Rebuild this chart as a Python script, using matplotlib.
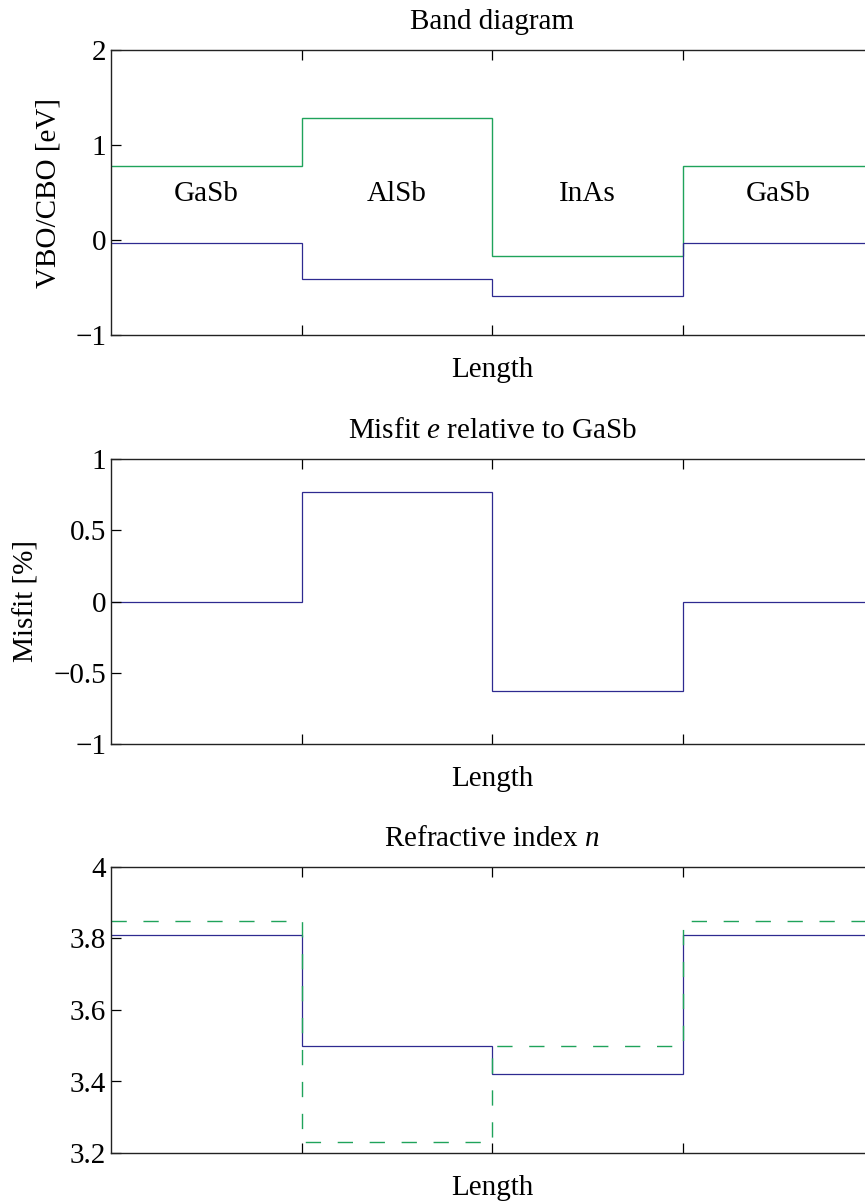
import numpy as np
import matplotlib
matplotlib.use("Agg")
import matplotlib.pyplot as plt

plt.rcParams['font.family'] = ['Liberation Serif', 'DejaVu Serif']
plt.rcParams['mathtext.fontset'] = 'custom'
plt.rcParams['mathtext.rm'] = 'Liberation Serif'
plt.rcParams['mathtext.it'] = 'Liberation Serif:italic'
plt.rcParams['font.size'] = 21

# layer stack, one unit of length per layer
materials = ["GaSb", "AlSb", "InAs", "GaSb"]
edges = [0, 1, 2, 3, 4]

vbo = [-0.03, -0.41, -0.59, -0.03]
cbo = [0.78, 1.28, -0.17, 0.78]
misfit = [0.0, 0.77, -0.63, 0.0]
n_solid = [3.81, 3.50, 3.42, 3.81]
n_dashed = [3.85, 3.23, 3.50, 3.85]

BLUE = "#2e2a90"
GREEN = "#1fa35b"

fig = plt.figure(figsize=(8.65, 12.02), dpi=100)

left = 111 / 865
width = 4 * 190.5 / 865
H = 1202


def make_axes(top_px, bottom_px):
    ax = fig.add_axes([left, 1 - bottom_px / H, width, (bottom_px - top_px) / H])
    ax.set_xlim(0, 4)
    ax.set_xticks([1, 2, 3])
    ax.set_xticklabels([])
    ax.tick_params(direction="in", top=True, right=False, length=7, width=0.9)
    for s in ax.spines.values():
        s.set_linewidth(1.0)
        s.set_color("#222222")
    ax.set_xlabel("Length", labelpad=12)
    return ax


# band diagram
ax1 = make_axes(50, 335)
ax1.stairs(cbo, edges, baseline=None, color=GREEN, lw=1.0)
ax1.stairs(vbo, edges, baseline=None, color=BLUE, lw=0.9)
ax1.set_ylim(-1, 2)
ax1.set_yticks([-1, 0, 1, 2])
for i, m in enumerate(materials):
    ax1.text(i + 0.5, 0.48, m, ha="center", va="center")
ax1.set_ylabel("VBO/CBO [eV]", labelpad=10)
ax1.set_title("Band diagram", pad=15, fontsize=21)

# misfit
ax2 = make_axes(459, 744)
ax2.stairs(misfit, edges, baseline=None, color=BLUE, lw=0.9)
ax2.set_ylim(-1, 1)
ax2.set_yticks([-1, -0.5, 0, 0.5, 1])
ax2.set_yticklabels(["\u22121", "\u22120.5", "0", "0.5", "1"])
ax2.set_ylabel("Misfit [%]", labelpad=10)
ax2.set_title("Misfit $e$ relative to GaSb", pad=15, fontsize=21)

# refractive index
ax3 = make_axes(867, 1153)
ax3.stairs(n_solid, edges, baseline=None, color=BLUE, lw=0.9)
ax3.stairs(n_dashed, edges, baseline=None, color=GREEN, lw=1.0, linestyle=(0, (11, 12)))
ax3.set_ylim(3.2, 4)
ax3.set_yticks([3.2, 3.4, 3.6, 3.8, 4])
ax3.set_yticklabels(["3.2", "3.4", "3.6", "3.8", "4"])
ax3.set_title("Refractive index $n$", pad=15, fontsize=21)

fig.savefig("out.png", dpi=100)
